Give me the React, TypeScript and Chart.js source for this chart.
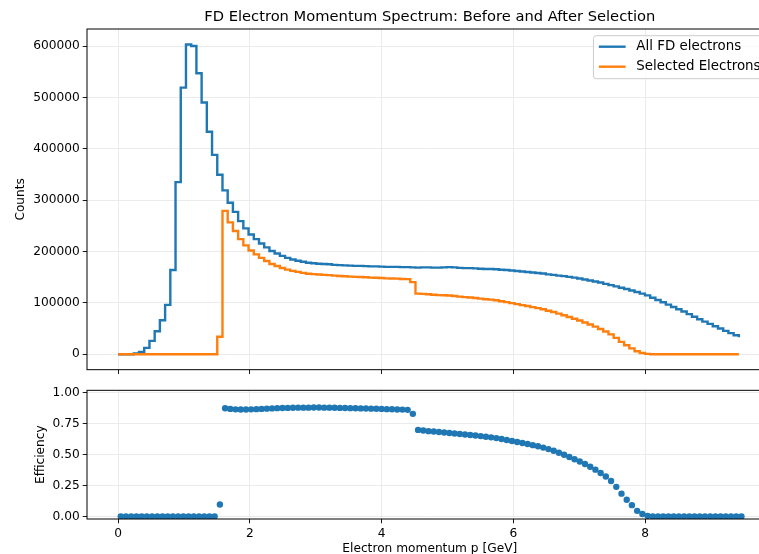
import React, { useEffect, useRef } from 'react';
import { Chart, registerables } from 'chart.js';

Chart.register(...registerables);

// Momentum binning: 120 equal bins from 0 to 9.5 GeV
const BIN_COUNT = 120;
const P_MAX = 9.5;
const BIN_EDGES = Array.from({ length: BIN_COUNT + 1 }, (_, i) => (i * P_MAX) / BIN_COUNT);
const BIN_LEFT = BIN_EDGES.slice(0, -1);
const BIN_CENTERS = BIN_LEFT.map((e, i) => (e + BIN_EDGES[i + 1]) / 2);

// Counts per bin, all forward-detector electrons
const ALL_FD_COUNTS = [
  0, 0, 0, 1500, 4600, 12400, 26000, 44600, 66000, 96000,
  164000, 335000, 519000, 603000, 600000, 547000, 490000, 433000, 388000, 349500,
  319000, 295000, 277000, 259000, 245000, 233000, 224000, 215500, 208000, 201000,
  196000, 191500, 187600, 184500, 182000, 180000, 178000, 177000, 176000, 175500,
  175000, 174000, 173500, 173000, 172500, 172000, 172000, 171500, 171000, 171000,
  170500, 170000, 170000, 170000, 169500, 169500, 169000, 168500, 169000, 169000,
  168500, 168500, 169000, 169500, 169000, 168000, 167500, 167500, 167000, 166500,
  166000, 166000, 165500, 164500, 164000, 163000, 162000, 161000, 160000, 159000,
  158000, 157000, 155500, 154500, 153000, 152000, 150500, 149000, 147500, 145500,
  143500, 141500, 139500, 137000, 134500, 132000, 129500, 127000, 124000, 121000,
  118000, 114500, 110000, 105500, 101000, 96500, 92000, 87500, 83000, 78000,
  73000, 68000, 63500, 59000, 54500, 50000, 45500, 41000, 37000, 33000,
];

// Counts per bin after the electron selection
const SELECTED_COUNTS = [
  0, 0, 0, 0, 0, 0, 0, 0, 0, 0,
  0, 0, 0, 0, 0, 0, 0, 0, 0, 34000,
  279000, 256700, 239900, 224000, 211900, 201800, 194400, 187500, 181400, 175700,
  171700, 167900, 164700, 162200, 160200, 158400, 156600, 155900, 155100, 154400,
  154000, 152900, 152300, 151700, 151100, 150500, 150300, 149700, 149100, 148900,
  148300, 147600, 147400, 147100, 146400, 146100, 140300, 117900, 117500, 116600,
  115800, 115100, 114800, 114400, 113400, 112100, 111100, 110400, 109400, 108200,
  107100, 106200, 104900, 103100, 101400, 99400, 97500, 95600, 93800, 91700,
  89700, 87400, 84700, 82200, 78900, 75800, 72400, 69000, 65600, 61700,
  57700, 53600, 49100, 44300, 38600, 31700, 24000, 17300, 11400, 5600,
  2400, 600, 0, 0, 0, 0, 0, 0, 0, 0,
  0, 0, 0, 0, 0, 0, 0, 0, 0, 0,
];

// Selection efficiency per bin (selected / all)
const EFFICIENCY = [
  0, 0, 0, 0, 0, 0, 0, 0, 0, 0,
  0, 0, 0, 0, 0, 0, 0, 0, 0, 0.097,
  0.875, 0.870, 0.866, 0.865, 0.865, 0.866, 0.868, 0.870, 0.872, 0.874,
  0.876, 0.877, 0.878, 0.879, 0.880, 0.880, 0.880, 0.881, 0.881, 0.880,
  0.880, 0.879, 0.878, 0.877, 0.876, 0.875, 0.874, 0.873, 0.872, 0.871,
  0.870, 0.868, 0.867, 0.865, 0.864, 0.862, 0.830, 0.700, 0.695, 0.690,
  0.687, 0.683, 0.679, 0.675, 0.671, 0.667, 0.663, 0.659, 0.655, 0.650,
  0.645, 0.640, 0.634, 0.627, 0.618, 0.610, 0.602, 0.594, 0.586, 0.577,
  0.568, 0.557, 0.545, 0.532, 0.516, 0.499, 0.481, 0.463, 0.445, 0.424,
  0.402, 0.379, 0.352, 0.323, 0.287, 0.240, 0.185, 0.136, 0.092, 0.046,
  0.020, 0.005, 0, 0, 0, 0, 0, 0, 0, 0,
  0, 0, 0, 0, 0, 0, 0, 0, 0, 0,
];

const X_TICKS = [0, 2, 4, 6, 8];
const COUNT_TICKS = [0, 100000, 200000, 300000, 400000, 500000, 600000];
const EFF_TICKS = [0, 0.25, 0.5, 0.75, 1.0];

const SERIES_LABELS = ['All FD electrons', 'Selected Electrons'];
const TITLE = 'FD Electron Momentum Spectrum: Before and After Selection';
const X_LABEL = 'Electron momentum p [GeV]';
const Y_LABEL_TOP = 'Counts';
const Y_LABEL_BOTTOM = 'Efficiency';

const BLUE = '#1f77b4';
const ORANGE = '#ff7f0e';
const GRID = '#e6e6e6';
const FONT = '"DejaVu Sans", sans-serif';
const TICK_SIZE = 12.2;

const X_MIN = -0.473;
const X_MAX = 9.933;

const CANVAS_W = 800;
const TOP_H = 380;
const BOTTOM_H = 174;

const tickFont = { family: FONT, size: TICK_SIZE };

function gridOpts() {
  return {
    color: GRID,
    lineWidth: 0.8,
    drawTicks: true,
    tickLength: 4.3,
    tickColor: '#000',
    tickWidth: 0.9,
  };
}

function framePlugin(id: string, extra: (ctx: CanvasRenderingContext2D, a: any) => void) {
  return {
    id,
    afterDraw(chart: any) {
      const { ctx, chartArea: a } = chart;
      ctx.save();
      ctx.strokeStyle = '#000';
      ctx.lineWidth = 1;
      ctx.strokeRect(a.left, a.top, a.right - a.left, a.bottom - a.top);
      extra(ctx, a);
      ctx.restore();
    },
  };
}

function drawRotated(ctx: CanvasRenderingContext2D, text: string, x: number, y: number) {
  ctx.save();
  ctx.translate(x, y);
  ctx.rotate(-Math.PI / 2);
  ctx.textAlign = 'center';
  ctx.textBaseline = 'middle';
  ctx.fillText(text, 0, 0);
  ctx.restore();
}

export default function App() {
  const topRef = useRef<HTMLCanvasElement | null>(null);
  const bottomRef = useRef<HTMLCanvasElement | null>(null);

  useEffect(() => {
    const allPts = BIN_LEFT.map((x, i) => ({ x, y: ALL_FD_COUNTS[i] }));
    const selPts = BIN_LEFT.map((x, i) => ({ x, y: SELECTED_COUNTS[i] }));
    const effPts = BIN_CENTERS.map((x, i) => ({ x, y: EFFICIENCY[i] }));

    const topDecor = framePlugin('topDecor', (ctx, a) => {
      ctx.fillStyle = '#000';
      ctx.font = `14.7px ${FONT}`;
      ctx.textAlign = 'center';
      ctx.textBaseline = 'middle';
      ctx.fillText(TITLE, (a.left + a.right) / 2, 17.5);

      ctx.font = `${TICK_SIZE}px ${FONT}`;
      drawRotated(ctx, Y_LABEL_TOP, 21, (a.top + a.bottom) / 2);

      // legend box in the upper right corner
      const fs = 13.4;
      ctx.font = `${fs}px ${FONT}`;
      const pad = 0.4 * fs;
      const handle = 2 * fs;
      const gap = 0.8 * fs;
      const textW = Math.max(...SERIES_LABELS.map((t) => ctx.measureText(t).width));
      const boxW = pad + handle + gap + textW + pad;
      const boxH = 43;
      const bx = a.right - 0.5 * fs - boxW;
      const by = a.top + 0.5 * fs;
      ctx.beginPath();
      ctx.roundRect(bx, by, boxW, boxH, 2.7);
      ctx.fillStyle = 'rgba(255,255,255,0.8)';
      ctx.fill();
      ctx.strokeStyle = '#cccccc';
      ctx.lineWidth = 1;
      ctx.stroke();
      const colors = [BLUE, ORANGE];
      SERIES_LABELS.forEach((label, i) => {
        const cy = by + 11 + i * 20;
        ctx.strokeStyle = colors[i];
        ctx.lineWidth = 2.4;
        ctx.beginPath();
        ctx.moveTo(bx + pad, cy);
        ctx.lineTo(bx + pad + handle, cy);
        ctx.stroke();
        ctx.fillStyle = '#000';
        ctx.textAlign = 'left';
        ctx.textBaseline = 'middle';
        ctx.fillText(label, bx + pad + handle + gap, cy);
      });
    });

    const bottomDecor = framePlugin('bottomDecor', (ctx, a) => {
      ctx.fillStyle = '#000';
      ctx.font = `${TICK_SIZE}px ${FONT}`;
      drawRotated(ctx, Y_LABEL_BOTTOM, 41, (a.top + a.bottom) / 2);
      ctx.textAlign = 'center';
      ctx.textBaseline = 'middle';
      ctx.fillText(X_LABEL, (a.left + a.right) / 2, 169);
    });

    const top = new Chart(topRef.current!, {
      type: 'line',
      data: {
        datasets: [
          {
            label: SERIES_LABELS[0],
            data: allPts,
            borderColor: BLUE,
            borderWidth: 2.4,
            pointRadius: 0,
            stepped: 'before',
            fill: false,
            order: 1,
          },
          {
            label: SERIES_LABELS[1],
            data: selPts,
            borderColor: ORANGE,
            borderWidth: 2.4,
            pointRadius: 0,
            stepped: 'before',
            fill: false,
            order: 0,
          },
        ],
      },
      options: {
        responsive: false,
        animation: false,
        devicePixelRatio: 1,
        layout: { padding: { left: 0, top: 29, right: CANVAS_W - 772.6, bottom: 6 } },
        plugins: { legend: { display: false }, tooltip: { enabled: false }, title: { display: false } },
        scales: {
          x: {
            type: 'linear',
            min: X_MIN,
            max: X_MAX,
            ticks: { display: false },
            grid: gridOpts(),
            border: { display: false },
            afterBuildTicks: (s: any) => {
              s.ticks = X_TICKS.map((value) => ({ value }));
            },
            afterFit: (s: any) => {
              s.height = 0;
            },
          },
          y: {
            type: 'linear',
            min: -30150,
            max: 633150,
            ticks: {
              font: tickFont,
              color: '#000',
              padding: 3,
              callback: (v: any) => String(v),
            },
            grid: gridOpts(),
            border: { display: false },
            afterBuildTicks: (s: any) => {
              s.ticks = COUNT_TICKS.map((value) => ({ value }));
            },
            afterFit: (s: any) => {
              s.width = 87;
            },
          },
        },
      },
      plugins: [topDecor],
    } as any);

    const bottom = new Chart(bottomRef.current!, {
      type: 'scatter',
      data: {
        datasets: [
          {
            label: 'Efficiency',
            data: effPts,
            backgroundColor: BLUE,
            borderWidth: 0,
            pointRadius: 3.2,
            showLine: false,
          },
        ],
      },
      options: {
        responsive: false,
        animation: false,
        devicePixelRatio: 1,
        layout: { padding: { left: 0, top: 10, right: CANVAS_W - 772.6, bottom: 5 } },
        plugins: { legend: { display: false }, tooltip: { enabled: false } },
        scales: {
          x: {
            type: 'linear',
            min: X_MIN,
            max: X_MAX,
            ticks: {
              font: tickFont,
              color: '#000',
              padding: 3.5,
              maxRotation: 0,
              callback: (v: any) => String(v),
            },
            grid: gridOpts(),
            border: { display: false },
            afterBuildTicks: (s: any) => {
              s.ticks = X_TICKS.map((value) => ({ value }));
            },
            afterFit: (s: any) => {
              s.height = 30;
            },
          },
          y: {
            type: 'linear',
            min: -0.02,
            max: 1.02,
            ticks: {
              font: tickFont,
              color: '#000',
              padding: 3,
              callback: (v: any) => Number(v).toFixed(2),
            },
            grid: gridOpts(),
            border: { display: false },
            afterBuildTicks: (s: any) => {
              s.ticks = EFF_TICKS.map((value) => ({ value }));
            },
            afterFit: (s: any) => {
              s.width = 87;
            },
          },
        },
      },
      plugins: [bottomDecor],
    } as any);

    return () => {
      top.destroy();
      bottom.destroy();
    };
  }, []);

  return (
    <div
      style={{
        position: 'fixed',
        left: 0,
        top: 0,
        width: 759,
        height: 554,
        overflow: 'hidden',
        background: '#fff',
      }}
    >
      <canvas
        ref={topRef}
        width={CANVAS_W}
        height={TOP_H}
        style={{ position: 'absolute', left: 0, top: 0, width: CANVAS_W, height: TOP_H }}
      />
      <canvas
        ref={bottomRef}
        width={CANVAS_W}
        height={BOTTOM_H}
        style={{ position: 'absolute', left: 0, top: TOP_H, width: CANVAS_W, height: BOTTOM_H }}
      />
    </div>
  );
}
